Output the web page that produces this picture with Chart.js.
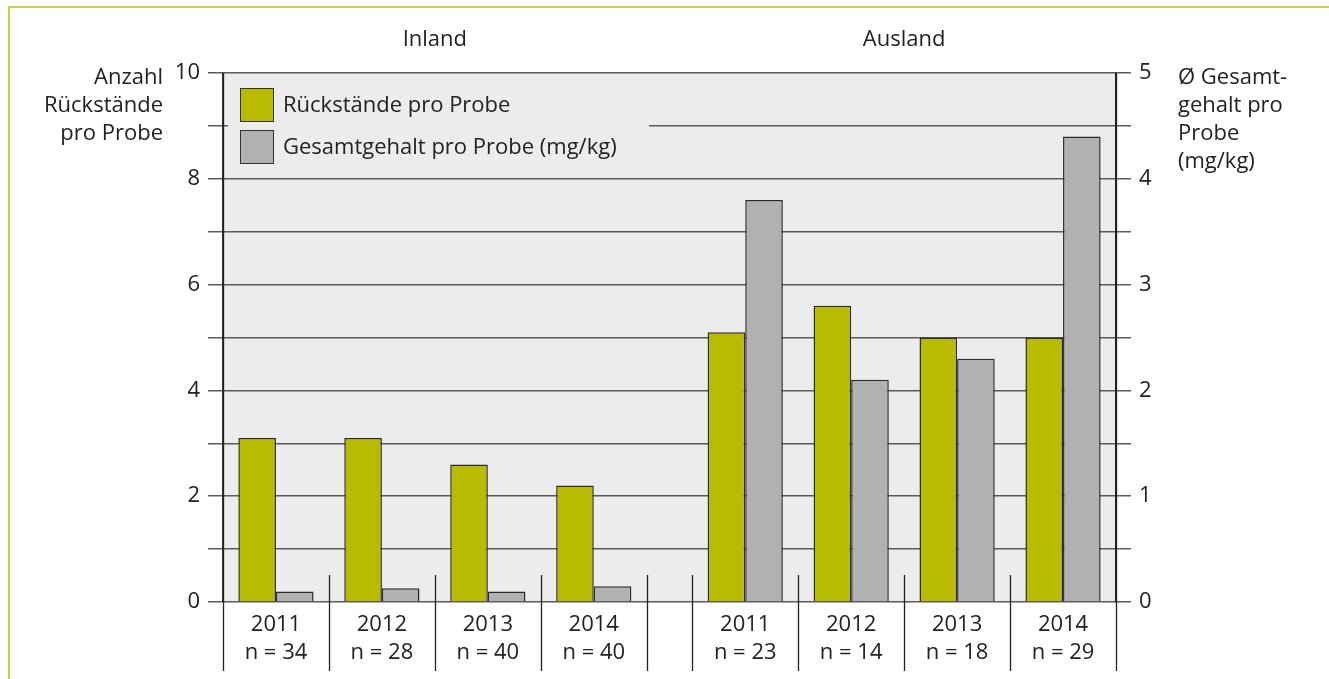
<!DOCTYPE html>
<html>
<head>
<meta charset="utf-8">
<script src="https://cdn.jsdelivr.net/npm/chart.js@4/dist/chart.umd.min.js"></script>
<style>
    body { margin: 0; background: #fff; }
    #wrap { position: relative; width: 1329px; height: 679px; }
    #frame { position: absolute; left: 8px; top: 6px; right: 0; bottom: 0;
             border-top: 2px solid #cbd03c; border-left: 2px solid #cbd03c; }
    canvas { position: absolute; left: 0; top: 0; }
</style>
</head>
<body>
<div id="wrap">
    <div id="frame"></div>
    <canvas id="chart" width="1329" height="679"></canvas>
</div>
<script>
const group_names = ["Inland", "Ausland"];
const years = ["2011", "2012", "2013", "2014"];
const inland_n = [34, 28, 40, 40];
const ausland_n = [23, 14, 18, 29];
const inland_residues = [3.1, 3.1, 2.6, 2.2];
const ausland_residues = [5.1, 5.6, 5.0, 5.0];
const inland_content = [0.1, 0.13, 0.1, 0.15];
const ausland_content = [3.8, 2.1, 2.3, 4.4];
const series_labels = ["Rückstände pro Probe", "Gesamtgehalt pro Probe (mg/kg)"];
const left_title = ["Anzahl", "Rückstände", "pro Probe"];
const right_title = ["Ø Gesamt-", "gehalt pro", "Probe", "(mg/kg)"];

// width of the gap between the two groups, in category widths
const GROUP_GAP = 0.43;
const FONT = "'Open Sans', Roboto, sans-serif";
const WEIGHT = "400";
const TEXT = "#222";
const GREEN = "#b9bb00";
const GREY = "#b1b1b1";

function group_start(g) {
    return g * (years.length + GROUP_GAP);
}

function center_list() {
    const out = [];
    group_names.forEach(function (name, g) {
        years.forEach(function (y, i) { out.push(group_start(g) + i + 0.5); });
    });
    return out;
}

function boundary_list() {
    const out = [];
    group_names.forEach(function (name, g) {
        for (let i = 0; i <= years.length; i++) { out.push(group_start(g) + i); }
    });
    return out;
}

function points(values_a, values_b) {
    const xs = center_list();
    return values_a.concat(values_b).map(function (v, i) { return {x: xs[i], y: v}; });
}

const tick_labels = years.map(function (y, i) { return [y, "n = " + inland_n[i]]; })
    .concat(years.map(function (y, i) { return [y, "n = " + ausland_n[i]]; }));

const decor = {
    id: "decor",
    beforeDraw: function (chart) {
        const a = chart.chartArea;
        const ctx = chart.ctx;
        ctx.save();
        ctx.fillStyle = "#ececec";
        ctx.fillRect(a.left, a.top, a.right - a.left, a.bottom - a.top);
        ctx.restore();
    },
    afterDatasetsDraw: function (chart) {
        const a = chart.chartArea;
        const ctx = chart.ctx;
        const xs = chart.scales.x;
        ctx.save();

        // legend box inside the plot
        ctx.fillStyle = "#ececec";
        ctx.fillRect(a.left + 5, a.top + 5, 421, 94);
        const colors = [GREEN, GREY];
        ctx.font = WEIGHT + " 22px " + FONT;
        ctx.textBaseline = "middle";
        series_labels.forEach(function (lab, i) {
            const y = a.top + 15 + i * 42;
            ctx.fillStyle = colors[i];
            ctx.fillRect(a.left + 17, y, 34, 34);
            ctx.strokeStyle = "#333";
            ctx.lineWidth = 1;
            ctx.strokeRect(a.left + 17.5, y + 0.5, 33, 33);
            ctx.fillStyle = TEXT;
            ctx.textAlign = "left";
            ctx.fillText(lab, a.left + 60, y + 18);
        });

        // category separators
        ctx.strokeStyle = "#222";
        ctx.lineWidth = 1.3;
        const bounds = boundary_list();
        bounds.forEach(function (b, i) {
            const px = Math.round(xs.getPixelForValue(b)) + 0.5;
            const edge = (i === 0 || i === bounds.length - 1);
            ctx.beginPath();
            ctx.moveTo(px, edge ? a.top : a.bottom - 27);
            ctx.lineTo(px, a.bottom + 69);
            ctx.stroke();
        });

        // group titles
        ctx.fillStyle = TEXT;
        ctx.textAlign = "center";
        ctx.textBaseline = "alphabetic";
        group_names.forEach(function (name, g) {
            const mid = xs.getPixelForValue(group_start(g) + years.length / 2);
            ctx.fillText(name, mid, 46);
        });

        // axis titles
        ctx.textAlign = "right";
        left_title.forEach(function (t, i) { ctx.fillText(t, 163, 84 + i * 28); });
        ctx.textAlign = "left";
        right_title.forEach(function (t, i) { ctx.fillText(t, 1178, 84 + i * 28); });
        ctx.restore();
    }
};

function main() {
    Chart.defaults.font.family = FONT;
    Chart.defaults.font.size = 22;
    Chart.defaults.font.weight = WEIGHT;
    Chart.defaults.color = TEXT;

    const centers = center_list();
    new Chart(document.getElementById("chart"), {
        type: "bar",
        data: {
            datasets: [
                {
                    label: series_labels[0],
                    data: points(inland_residues, ausland_residues),
                    backgroundColor: GREEN,
                    borderColor: "#2a2a2a",
                    borderWidth: 1.5,
                    yAxisID: "y"
                },
                {
                    label: series_labels[1],
                    data: points(inland_content, ausland_content),
                    backgroundColor: GREY,
                    borderColor: "#2a2a2a",
                    borderWidth: 1.5,
                    yAxisID: "y1"
                }
            ]
        },
        options: {
            responsive: false,
            animation: false,
            devicePixelRatio: 1,
            categoryPercentage: 0.71,
            barPercentage: 1,
            layout: { padding: { top: 73, left: 0, right: 0, bottom: 0 } },
            plugins: { legend: { display: false }, tooltip: { enabled: false } },
            scales: {
                x: {
                    type: "linear",
                    offset: false,
                    min: 0,
                    max: group_start(group_names.length - 1) + years.length,
                    grid: { display: false, drawTicks: false },
                    border: { display: false },
                    afterBuildTicks: function (scale) {
                        scale.ticks = centers.map(function (v) { return {value: v}; });
                    },
                    afterFit: function (scale) { scale.height = 77; },
                    ticks: {
                        autoSkip: false,
                        maxRotation: 0,
                        padding: 9,
                        font: { size: 22, lineHeight: 1.27 },
                        callback: function (value, index) { return tick_labels[index]; }
                    }
                },
                y: {
                    position: "left",
                    min: 0,
                    max: 10,
                    afterFit: function (scale) { scale.width = 223; },
                    ticks: {
                        stepSize: 1,
                        padding: 8,
                        callback: function (v) { return v % 2 === 0 ? v : ""; }
                    },
                    grid: { color: "#5a5a5a", lineWidth: 1.5, tickLength: 15 },
                    border: { color: "#333", width: 1.5 }
                },
                y1: {
                    position: "right",
                    min: 0,
                    max: 5,
                    afterFit: function (scale) { scale.width = 213; },
                    ticks: {
                        stepSize: 0.5,
                        padding: 8,
                        callback: function (v) { return Number.isInteger(v) ? v : ""; }
                    },
                    grid: { drawOnChartArea: false, color: "#5a5a5a", lineWidth: 1.5, tickLength: 15 },
                    border: { color: "#222", width: 1.5 }
                }
            }
        },
        plugins: [decor]
    });
}

main();
</script>
</body>
</html>
